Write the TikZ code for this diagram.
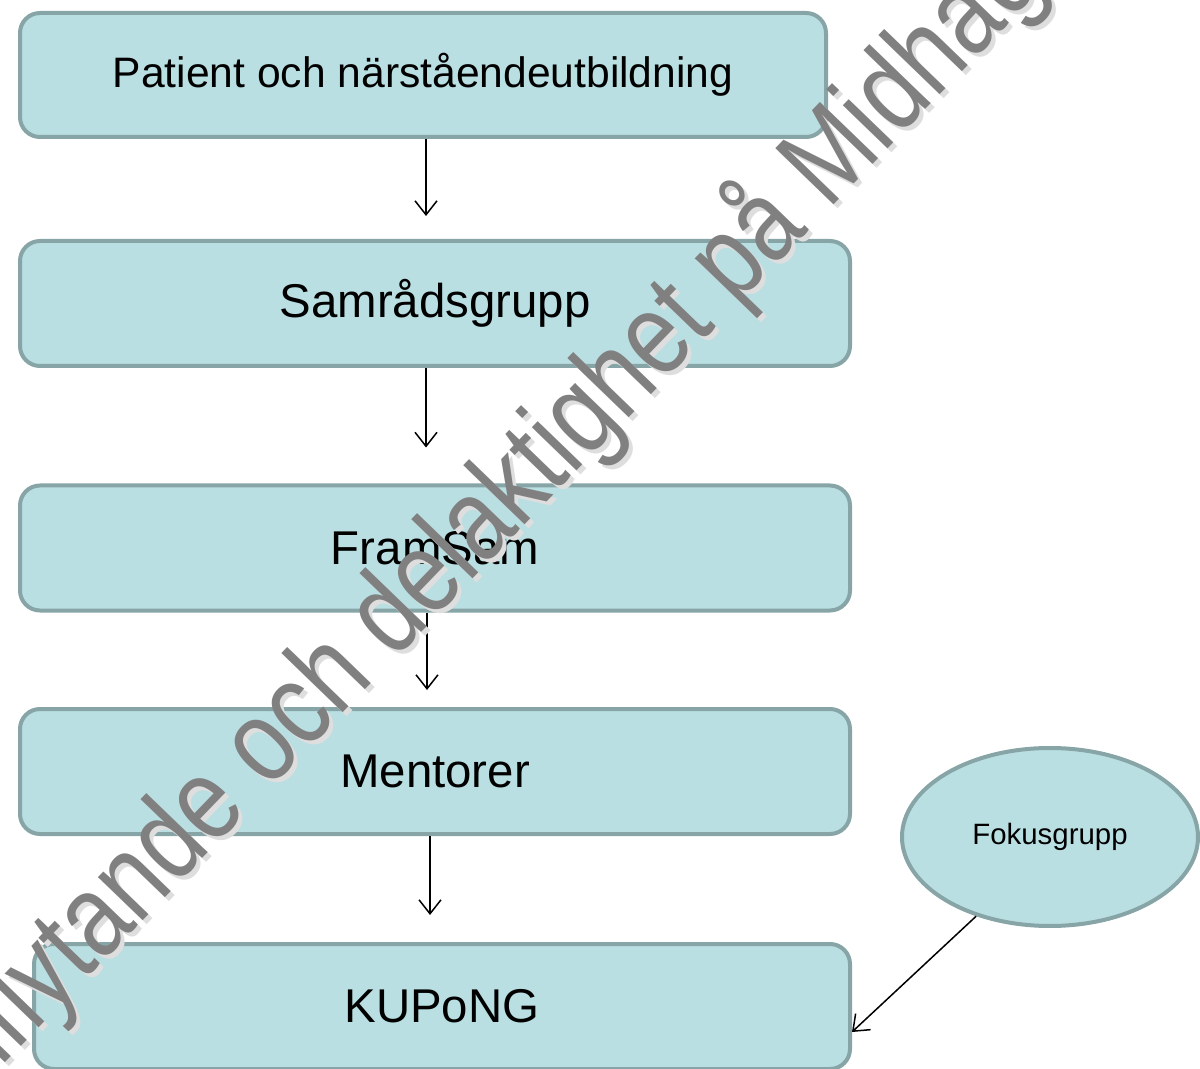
\documentclass[tikz,border=0pt]{standalone}
\usepackage{fontspec}
\setmainfont{Liberation Sans}
\usetikzlibrary{shapes.geometric,arrows.meta}
\definecolor{boxfill}{HTML}{B9DFE2}
\definecolor{boxline}{HTML}{87A4A6}
\definecolor{wmgray}{HTML}{808080}
\definecolor{wmshadow}{HTML}{DEDEDE}
\tikzset{
  flowbox/.style={draw=boxline, fill=boxfill, line width=2pt, rounded corners=10pt,
    minimum height=62.5pt, inner sep=0pt, text=black},
  oval/.style={draw=boxline, fill=boxfill, line width=2pt, ellipse, inner sep=0pt,
    minimum width=148pt, minimum height=89pt, font=\fontsize{14.7}{16}\selectfont},
  arr/.style={line width=0.75pt, -{Straight Barb[length=7pt,width=11pt,line width=0.75pt]}},
  wm/.style={rotate=46, xscale=0.98, yscale=1.2, inner sep=0pt, font=\fontsize{49}{49}\selectfont}
}
\begin{document}
\begin{tikzpicture}[x=0.5pt,y=-0.5pt]
\useasboundingbox (0,0) rectangle (1200,1069);
\clip (0,0) rectangle (1200,1069);
\node[flowbox, minimum width=403pt, minimum height=62pt, font=\fontsize{21.3}{24}\selectfont] (b1) at (423,75) {Patient och närståendeutbildning};
\node[flowbox, minimum width=415pt, font=\fontsize{23.7}{26}\selectfont] (b2) at (435,303.5) {Samrådsgrupp};
\node[flowbox, minimum width=415pt, font=\fontsize{23.7}{26}\selectfont] (b3) at (435,548) {FramSam};
\node[flowbox, minimum width=415pt, font=\fontsize{23.7}{26}\selectfont] (b4) at (435,771.5) {Mentorer};
\node[flowbox, minimum width=408pt, font=\fontsize{23.7}{26}\selectfont] (b5) at (442,1006.5) {KUPoNG};
\node[oval] (fk) at (1050,837) {Fokusgrupp};
\draw[arr, shorten >=11.5pt] ([xshift=1.5pt]b1.south) -- ([xshift=-4.5pt]b2.north);
\draw[arr, shorten >=18pt] ([xshift=-4.5pt]b2.south) -- ([xshift=-4.5pt]b3.north);
\draw[arr, shorten >=8.5pt] ([xshift=-4pt]b3.south) -- ([xshift=-4pt]b4.north);
\draw[arr, shorten >=13.5pt] ([xshift=-2.5pt]b4.south) -- ([xshift=-6pt]b5.north);
\draw[arr] (fk.227) -- ([yshift=-12.75pt]b5.east);
% watermark
\begin{scope}[shift={(4,4)}]
\node[wm, text=wmshadow] (wms) at (497,503) {lytande och delaktighet på Midha};
\node[wm, text=wmshadow, anchor=base east] at (wms.base west) {Inf};
\node[wm, text=wmshadow, anchor=base west] at (wms.base east) {gens};
\end{scope}
\node[wm, text=wmgray] (wmt) at (497,503) {lytande och delaktighet på Midha};
\node[wm, text=wmgray, anchor=base east] (wml) at (wmt.base west) {Inf};
\node[wm, text=wmgray, anchor=base west] (wmr) at (wmt.base east) {gens};
\end{tikzpicture}
\end{document}
